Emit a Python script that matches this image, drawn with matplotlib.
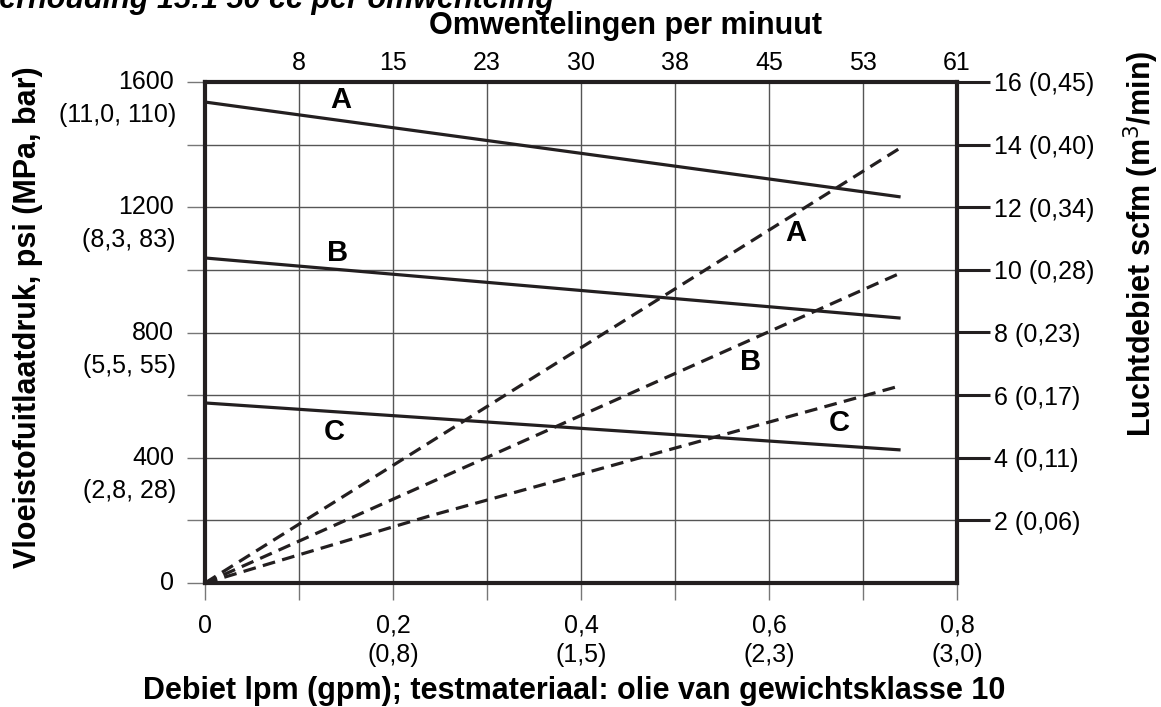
import matplotlib.pyplot as plt
import numpy as np

plt.rcParams['font.family'] = ['Liberation Sans', 'DejaVu Sans']

INK = '#231f20'

# flow in lpm (gpm scale shown underneath)
flow_ticks = [0, 0.1, 0.2, 0.3, 0.4, 0.5, 0.6, 0.7, 0.8]
flow_labels = ['0', '', '0,2\n(0,8)', '', '0,4\n(1,5)', '', '0,6\n(2,3)', '', '0,8\n(3,0)']
cycle_labels = ['8', '15', '23', '30', '38', '45', '53', '61']

# fluid outlet pressure (psi), with MPa / bar in brackets
psi_ticks = [0, 200, 400, 600, 800, 1000, 1200, 1400, 1600]
psi_main = ['0', '', '400', '', '800', '', '1200', '', '1600']
psi_sub = ['', '', '(2,8, 28)', '', '(5,5, 55)', '', '(8,3, 83)', '', '(11,0, 110)']

# air consumption scfm (m3/min)
air_ticks = [2, 4, 6, 8, 10, 12, 14, 16]
air_labels = ['2 (0,06)', '4 (0,11)', '6 (0,17)', '8 (0,23)',
              '10 (0,28)', '12 (0,34)', '14 (0,40)', '16 (0,45)']

# pressure curves (solid)
press_x = [0, 0.74]
press_A = [1536, 1233]
press_B = [1038, 846]
press_C = [575, 425]

# air curves (dashed), scfm
air_x_A = [0, 0.74]
air_A = [0, 13.9]
air_x_B = [0, 0.74]
air_B = [0, 9.9]
air_x_C = [0, 0.1, 0.24, 0.74]
air_C = [0, 0.9, 2.15, 6.3]

TICK_FS = 18
LABEL_FS = 22
CURVE_FS = 21

fig = plt.figure(figsize=(11.61, 7.07), dpi=100)
ax = fig.add_axes([205 / 1161, 1 - 583 / 707, 752 / 1161, 501 / 707])

ax.set_xlim(0, 0.8)
ax.set_ylim(0, 1600)
ax.set_xticks(flow_ticks)
ax.set_xticklabels(flow_labels, fontsize=TICK_FS, linespacing=1.3, va='top')
ax.set_yticks(psi_ticks)
ax.set_yticklabels([])
ax.tick_params(axis='x', direction='out', length=12, width=1, color='#777777', pad=10)
ax.tick_params(axis='y', direction='out', length=13, width=1, color='#777777')
ax.grid(True, color='#555555', lw=1.0)
ax.set_axisbelow(True)
for sp in ax.spines.values():
    sp.set_linewidth(3)
    sp.set_color(INK)

for v, m, s in zip(psi_ticks, psi_main, psi_sub):
    if m:
        ax.annotate(m, xy=(0, v), xycoords=('axes fraction', 'data'),
                    xytext=(-31, 0), textcoords='offset pixels',
                    ha='right', va='center', fontsize=TICK_FS)
    if s:
        ax.annotate(s, xy=(0, v), xycoords=('axes fraction', 'data'),
                    xytext=(-29, -33), textcoords='offset pixels',
                    ha='right', va='center', fontsize=TICK_FS)

ax.plot(press_x, press_A, color=INK, lw=2.3, solid_capstyle='butt')
ax.plot(press_x, press_B, color=INK, lw=2.3, solid_capstyle='butt')
ax.plot(press_x, press_C, color=INK, lw=2.3, solid_capstyle='butt')

ax.text(0.144, 1543, 'A', fontsize=CURVE_FS, fontweight='bold', ha='center', va='center')
ax.text(0.141, 1054, 'B', fontsize=CURVE_FS, fontweight='bold', ha='center', va='center')
ax.text(0.138, 482, 'C', fontsize=CURVE_FS, fontweight='bold', ha='center', va='center')

ax.set_xlabel('Debiet lpm (gpm); testmateriaal: olie van gewichtsklasse 10',
              fontsize=LABEL_FS, fontweight='bold', va='center')
ax.xaxis.set_label_coords(0.491, -0.2156)
ax.set_ylabel('Vloeistofuitlaatdruk, psi (MPa, bar)',
              fontsize=LABEL_FS, fontweight='bold', va='center')
ax.yaxis.set_label_coords(-0.236, 0.531)

# right axis: air flow
ax2 = ax.twinx()
ax2.set_ylim(0, 16)
ax2.set_yticks(air_ticks)
ax2.set_yticklabels(air_labels, fontsize=TICK_FS)
ax2.tick_params(axis='y', direction='out', length=24, width=2.2, color=INK, pad=3)
for sp in ax2.spines.values():
    sp.set_visible(False)
ax2.set_ylabel('Luchtdebiet scfm (m$^3$/min)', fontsize=LABEL_FS, fontweight='bold',
               va='center')
ax2.yaxis.set_label_coords(1.245, 0.677)

dash = dict(color=INK, lw=2.3, linestyle=(0, (4.0, 2.3)))
ax2.plot(air_x_A, air_A, **dash)
ax2.plot(air_x_B, air_B, **dash)
ax2.plot(air_x_C, air_C, **dash)
ax2.text(0.628, 11.18, 'A', fontsize=CURVE_FS, fontweight='bold', ha='center', va='center')
ax2.text(0.58, 7.06, 'B', fontsize=CURVE_FS, fontweight='bold', ha='center', va='center')
ax2.text(0.675, 5.11, 'C', fontsize=CURVE_FS, fontweight='bold', ha='center', va='center')

# top axis: cycles per minute
ax3 = ax.twiny()
ax3.set_xlim(0, 0.8)
ax3.set_xticks(flow_ticks[1:])
ax3.set_xticklabels(cycle_labels, fontsize=TICK_FS)
ax3.tick_params(axis='x', length=0, pad=5)
for sp in ax3.spines.values():
    sp.set_visible(False)
ax3.set_xlabel('Omwentelingen per minuut', fontsize=LABEL_FS, fontweight='bold',
               va='center')
ax3.xaxis.set_label_coords(0.559, 1.112)

fig.text(-20 / 1161, 1 - 8 / 707, 'Verhouding 15:1 50 cc per omwenteling',
         fontsize=LABEL_FS, fontweight='bold', fontstyle='italic',
         ha='left', va='baseline')

fig.savefig('out.png', dpi=100)
